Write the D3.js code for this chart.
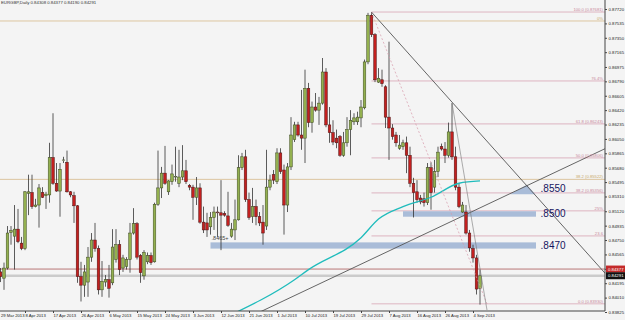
<!DOCTYPE html>
<html>
<head>
<meta charset="utf-8">
<script src="https://cdn.jsdelivr.net/npm/d3@7"></script>
<style>
html, body { margin: 0; padding: 0; background: #f4f4f4; }
svg { display: block; font-family: "Liberation Sans", Arial, sans-serif; }
</style>
</head>
<body>
<svg id="chart" width="625" height="320"></svg>
<script>
///// *** DATA *** /////
// daily EURGBP bars, index 0 = 29 Mar 2013 (Sunday bars included)
var opens = [
  .8430,.8434,.8426,.8439,.8485,.8480,.8489,.8471,.8464,.8535,
  .8536,.8518,.8520,.8536,.8532,.8533,.8581,.8548,.8538,.8577,
  .8575,.8537,.8532,.8519,.8428,.8417,.8421,.8453,.8475,.8464,
  .8411,.8421,.8424,.8420,.8450,.8469,.8439,.8441,.8450,.8484,
  .8496,.8455,.8429,.8447,.8455,.8447,.8521,.8542,.8561,.8537,
  .8550,.8556,.8548,.8556,.8564,.8545,.8543,.8530,.8542,.8498,
  .8497,.8492,.8504,.8511,.8510,.8509,.8506,.8480,.8488,.8501,
  .8568,.8582,.8527,.8505,.8518,.8505,.8498,.8493,.8543,.8559,
  .8550,.8587,.8565,.8520,.8569,.8604,.8623,.8610,.8606,.8670,
  .8626,.8646,.8642,.8651,.8691,.8623,.8613,.8606,.8608,.8584,
  .8600,.8617,.8627,.8627,.8632,.8645,.8704,.8764,.8739,.8678,
  .8681,.8672,.8633,.8619,.8610,.8593,.8595,.8600,.8584,.8548,
  .8537,.8529,.8528,.8523,.8568,.8543,.8563,.8595,.8592,.8584,
  .8614,.8582,.8543,.8511,.8511,.8484,.8464,.8452,.8413
];
var highs = [
  .8437,.8439,.8446,.8493,.8493,.8520,.8515,.8479,.8538,.8559,
  .8559,.8528,.8547,.8543,.8537,.8600,.8638,.8574,.8574,.8582,
  .8590,.8538,.8537,.8520,.8447,.8443,.8466,.8484,.8497,.8468,
  .8448,.8430,.8443,.8489,.8489,.8475,.8456,.8453,.8497,.8516,
  .8498,.8457,.8462,.8459,.8459,.8523,.8590,.8569,.8596,.8552,
  .8572,.8595,.8591,.8597,.8578,.8547,.8546,.8556,.8548,.8518,
  .8510,.8511,.8518,.8518,.8552,.8512,.8537,.8497,.8527,.8584,
  .8587,.8591,.8536,.8542,.8527,.8511,.8520,.8591,.8559,.8565,
  .8593,.8593,.8572,.8574,.8633,.8627,.8627,.8668,.8694,.8677,
  .8653,.8664,.8659,.8709,.8696,.8646,.8629,.8617,.8610,.8614,
  .8633,.8642,.8638,.8640,.8655,.8707,.8767,.8768,.8741,.8696,
  .8694,.8674,.8730,.8624,.8614,.8610,.8604,.8608,.8595,.8555,
  .8552,.8533,.8536,.8574,.8575,.8578,.8595,.8599,.8601,.8626,
  .8651,.8595,.8548,.8524,.8520,.8488,.8469,.8456,.8437
];
var lows = [
  .8417,.8421,.8411,.8437,.8469,.8437,.8471,.8462,.8462,.8507,
  .8515,.8517,.8491,.8529,.8515,.8523,.8546,.8537,.8505,.8574,
  .8536,.8530,.8497,.8420,.8396,.8402,.8402,.8447,.8460,.8405,
  .8402,.8415,.8401,.8417,.8446,.8430,.8434,.8437,.8433,.8482,
  .8450,.8420,.8424,.8444,.8443,.8446,.8519,.8529,.8546,.8533,
  .8546,.8550,.8543,.8552,.8547,.8539,.8501,.8520,.8496,.8484,
  .8479,.8482,.8488,.8479,.8462,.8505,.8492,.8478,.8475,.8500,
  .8565,.8524,.8501,.8497,.8494,.8493,.8469,.8488,.8539,.8547,
  .8547,.8560,.8482,.8511,.8565,.8601,.8608,.8591,.8574,.8620,
  .8613,.8640,.8623,.8649,.8620,.8600,.8597,.8593,.8582,.8582,
  .8595,.8584,.8623,.8623,.8620,.8643,.8701,.8736,.8678,.8677,
  .8672,.8619,.8578,.8604,.8595,.8591,.8591,.8561,.8543,.8504,
  .8523,.8521,.8518,.8520,.8514,.8536,.8556,.8590,.8574,.8581,
  .8578,.8539,.8516,.8510,.8482,.8460,.8446,.8405,.8392
];
var closes = [
  .8424,.8428,.8439,.8484,.8487,.8489,.8473,.8464,.8537,.8537,
  .8518,.8520,.8542,.8530,.8534,.8581,.8548,.8538,.8566,.8578,
  .8537,.8533,.8519,.8428,.8417,.8434,.8453,.8475,.8464,.8411,
  .8422,.8424,.8413,.8466,.8469,.8437,.8452,.8450,.8484,.8496,
  .8453,.8433,.8459,.8455,.8446,.8521,.8542,.8561,.8548,.8551,
  .8560,.8557,.8556,.8564,.8550,.8543,.8530,.8542,.8498,.8488,
  .8488,.8504,.8511,.8510,.8507,.8507,.8494,.8489,.8501,.8568,
  .8582,.8527,.8504,.8518,.8505,.8497,.8484,.8543,.8552,.8552,
  .8587,.8563,.8520,.8569,.8610,.8623,.8610,.8606,.8670,.8626,
  .8646,.8642,.8651,.8691,.8623,.8613,.8601,.8600,.8584,.8600,
  .8617,.8629,.8632,.8633,.8646,.8704,.8764,.8739,.8681,.8683,
  .8676,.8633,.8619,.8608,.8600,.8597,.8600,.8584,.8548,.8536,
  .8527,.8524,.8523,.8568,.8536,.8563,.8588,.8592,.8584,.8614,
  .8582,.8543,.8518,.8520,.8484,.8465,.8452,.8412,.8429
];

// 8-bar date labels along the bottom
var dateLabels = ["29 Mar 2013","8 Apr 2013","17 Apr 2013","26 Apr 2013","6 May 2013",
  "15 May 2013","24 May 2013","3 Jun 2013","12 Jun 2013","21 Jun 2013","1 Jul 2013",
  "10 Jul 2013","19 Jul 2013","29 Jul 2013","7 Aug 2013","16 Aug 2013","26 Aug 2013","4 Sep 2013"];
var priceTicks = [0.87720,0.87535,0.87350,0.87165,0.86975,0.86790,0.86605,0.86420,0.86235,
  0.86050,0.85865,0.85680,0.85495,0.85310,0.85120,0.84935,0.84750,0.84565,0.84380,
  0.84195,0.84010,0.83825];

// moving average (bar index, value)
var maBars = [66, 85, 89, 104, 109, 116, 124, 132, 138];
var maValues = [0.8377, 0.8424, 0.8437, 0.8478, 0.8502, 0.8518, 0.8530, 0.8548, 0.8551];

// fibonacci levels drawn from the 1 Aug top
var fibLevels = [0.87681, 0.86795, 0.86243, 0.85806, 0.85356, 0.85125, 0.84803, 0.83930];
var fibLabels = ["100.0 (0.87681)", "76.4%", "61.8 (0.86243)", "50.0 (0.85806)",
  "38.2 (0.85356)", "25%", "23.6", "0.0 (0.83930)"];
// older levels running the whole width
var oldLevels = [0.87566, 0.85530];
var oldLabels = ["0%", "38.2 (0.85522)"];

// trend lines, [bar, price]
var descLine = [[107, 0.8768], [174, 0.8431]];
var ascLine = [[73, 0.8378], [174, 0.8593]];
var steepLine = [[130, 0.8651], [140, 0.8385]];
var fibDiag = [[107, 0.8768], [140, 0.8393]];

// support zones
var zoneBars = [[61, 154], [116, 154]];
var zonePrices = [[0.8464, 0.8472], [0.8505, 0.8512]];
var zoneTri = [[146.6, 0.8534], [151.4, 0.8546], [153.8, 0.8534]];
var zoneTexts = [".8550", ".8500", ".8470"];
var zoneTextPrices = [0.8541, 0.8509, 0.8468];

var askPrice = 0.84377, bidPrice = 0.84291;

///// *** SCALES *** /////
var svg = d3.select('#chart'),
    plotW = 605,
    plotH = 311,
    green = '#93b04f',
    red = '#c2201f';

var x = d3.scaleLinear().domain([0, 100]).range([-3, 347]);
var y = d3.scaleLinear().domain([0.83825, 0.87720]).range([312, 9]);

svg.append('rect').attr('width', 625).attr('height', 320).attr('fill', '#f4f4f4');

svg.append('clipPath').attr('id', 'plot')
  .append('rect').attr('x', 0).attr('y', 0).attr('width', plotW).attr('height', plotH);

var g = svg.append('g').attr('clip-path', 'url(#plot)');

///// *** LEVELS *** /////
g.selectAll('.old').data(oldLevels).enter().append('line')
  .attr('x1', 0).attr('x2', plotW)
  .attr('y1', function(d) { return y(d); }).attr('y2', function(d) { return y(d); })
  .attr('stroke', '#d6b98a').attr('stroke-width', 0.8);

g.selectAll('.fib').data(fibLevels).enter().append('line')
  .attr('x1', x(107)).attr('x2', plotW)
  .attr('y1', function(d) { return y(d); }).attr('y2', function(d) { return y(d); })
  .attr('stroke', '#d8a4b4').attr('stroke-width', 0.8);

g.append('line').attr('x1', 0).attr('x2', plotW)
  .attr('y1', y(bidPrice)).attr('y2', y(bidPrice))
  .attr('stroke', '#cbcbcb').attr('stroke-width', 2.5);
g.append('line').attr('x1', 0).attr('x2', plotW)
  .attr('y1', y(askPrice)).attr('y2', y(askPrice))
  .attr('stroke', '#a85656').attr('stroke-width', 0.8);

//zones
zoneBars.forEach(function(b, k) {
  g.append('rect')
    .attr('x', x(b[0])).attr('width', x(b[1]) - x(b[0]))
    .attr('y', y(zonePrices[k][1])).attr('height', y(zonePrices[k][0]) - y(zonePrices[k][1]))
    .attr('fill', '#a9bcd8');
});
g.append('path')
  .attr('d', d3.line().x(function(d) { return x(d[0]); }).y(function(d) { return y(d[1]); })(zoneTri) + 'Z')
  .attr('fill', '#a9bcd8');

///// *** CANDLES *** /////
var bars = d3.range(opens.length);

g.selectAll('.wick').data(bars).enter().append('line')
  .attr('x1', function(i) { return x(i); }).attr('x2', function(i) { return x(i); })
  .attr('y1', function(i) { return y(highs[i]); })
  .attr('y2', function(i) { return y(lows[i]); })
  .attr('stroke', '#333').attr('stroke-width', 0.8);

g.selectAll('.body').data(bars).enter().append('rect')
  .attr('x', function(i) { return x(i) - 1.3; })
  .attr('width', 2.6)
  .attr('y', function(i) { return y(Math.max(opens[i], closes[i])); })
  .attr('height', function(i) { return Math.max(0.8, Math.abs(y(opens[i]) - y(closes[i]))); })
  .attr('fill', function(i) {
    if (Math.abs(y(opens[i]) - y(closes[i])) < 1.5) return '#f4f4f4';
    return closes[i] >= opens[i] ? green : red;
  })
  .attr('stroke', function(i) { return closes[i] >= opens[i] ? '#3d4a1f' : '#4e1212'; })
  .attr('stroke-width', 0.5);

///// *** INDICATOR + LINES *** /////
var lineXY = d3.line()
  .x(function(d) { return x(d[0]); })
  .y(function(d) { return y(d[1]); });

g.append('path')
  .datum(maBars.map(function(b, k) { return [b, maValues[k]]; }))
  .attr('d', lineXY.curve(d3.curveMonotoneX))
  .attr('fill', 'none').attr('stroke', '#1fbcbc').attr('stroke-width', 1.3);
lineXY.curve(d3.curveLinear);

g.append('path').datum(fibDiag).attr('d', lineXY)
  .attr('stroke', '#d79aaa').attr('stroke-width', 0.7).attr('stroke-dasharray', '2,2').attr('fill', 'none');
[descLine, ascLine].forEach(function(l) {
  g.append('path').datum(l).attr('d', lineXY)
    .attr('stroke', '#555').attr('stroke-width', 0.9).attr('fill', 'none');
});
g.append('path').datum(steepLine).attr('d', lineXY)
  .attr('stroke', '#777').attr('stroke-width', 0.6).attr('fill', 'none');

///// *** TEXTS *** /////
g.selectAll('.fibtxt').data(fibLevels).enter().append('text')
  .attr('x', plotW - 2).attr('y', function(d) { return y(d) - 1; })
  .attr('text-anchor', 'end').attr('font-size', 4.2).attr('fill', '#c98a9c')
  .text(function(d, k) { return fibLabels[k]; });
g.selectAll('.oldtxt').data(oldLevels).enter().append('text')
  .attr('x', plotW - 2).attr('y', function(d) { return y(d) - 1; })
  .attr('text-anchor', 'end').attr('font-size', 4.2).attr('fill', '#c8aa6a')
  .text(function(d, k) { return oldLabels[k]; });

g.selectAll('.zonetxt').data(zoneTextPrices).enter().append('text')
  .attr('x', x(155.3)).attr('y', function(d) { return y(d); })
  .attr('dy', '0.35em').attr('font-size', 10).attr('fill', '#14145e')
  .text(function(d, k) { return zoneTexts[k]; });

g.append('text').attr('x', x(61.3)).attr('y', y(0.8472) - 2)
  .attr('font-size', 5.5).attr('fill', '#444').text('.8465+');

svg.append('text').attr('x', 1).attr('y', 4)
  .attr('font-size', 4.3).attr('fill', '#333')
  .text('EURGBP,Daily  0.84308 0.84377 0.84190 0.84291');

///// *** AXES *** /////
var yAxis = d3.axisRight(y).tickValues(priceTicks)
  .tickFormat(d3.format('.5f')).tickSize(2).tickPadding(1.5);
var ya = svg.append('g').attr('transform', 'translate(' + plotW + ',0)').call(yAxis);
ya.select('.domain').attr('d', 'M0,0V' + plotH).attr('stroke', '#444');
ya.selectAll('.tick line').attr('stroke', '#444');
ya.selectAll('text').attr('font-size', 4.3).attr('fill', '#222')
  .attr('font-family', '"Liberation Sans", Arial, sans-serif');

var xAxis = d3.axisBottom(x).tickValues(dateLabels.map(function(d, k) { return k * 8; }))
  .tickFormat(function(d) { return dateLabels[d / 8]; }).tickSize(2).tickPadding(1.5);
var xa = svg.append('g').attr('transform', 'translate(0,' + plotH + ')').call(xAxis);
xa.select('.domain').attr('d', 'M0,0H' + plotW).attr('stroke', '#444');
xa.selectAll('.tick line').attr('stroke', '#444');
xa.selectAll('text').attr('font-size', 4.2).attr('fill', '#222').attr('text-anchor', 'start')
  .attr('font-family', '"Liberation Sans", Arial, sans-serif')
  .attr('dx', function(d) { return x(d) < 0 ? -x(d) + 0.5 : 0; });

//price boxes
[[askPrice, '#c42a2a'], [bidPrice, '#111']].forEach(function(p) {
  svg.append('rect').attr('x', plotW + 1).attr('y', y(p[0]) - 3.5)
    .attr('width', 19).attr('height', 7).attr('fill', p[1]);
  svg.append('text').attr('x', plotW + 3).attr('y', y(p[0]))
    .attr('dy', '0.35em').attr('font-size', 4.3).attr('fill', '#fff')
    .text(d3.format('.5f')(p[0]));
});
</script>
</body>
</html>
